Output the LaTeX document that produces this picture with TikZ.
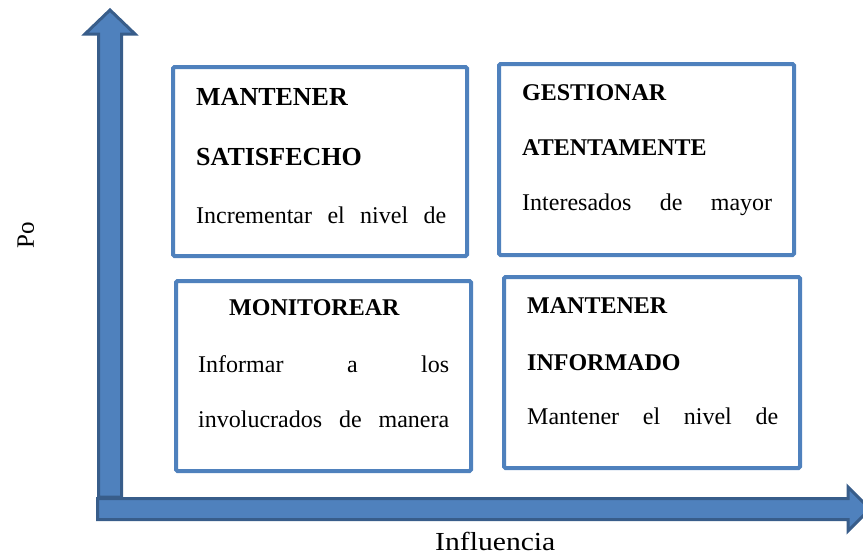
\documentclass[tikz,border=0pt]{standalone}
\usepackage{fontspec}
\setmainfont{Liberation Serif}
\definecolor{accent}{HTML}{4F81BD}
\definecolor{accentdark}{HTML}{385D8A}
\begin{document}
\begin{tikzpicture}[x=1pt,y=-1pt,
  quad/.style={draw=accent, line width=4pt, rounded corners=1.5pt, inner sep=0pt, outer sep=0pt, fill=white},
  axisarrow/.style={fill=accent, draw=accentdark, line width=3pt, line join=miter},
  lbl/.style={anchor=base west, inner sep=0pt, font=\fontsize{24}{24}\selectfont},
  hd/.style={anchor=base west, inner sep=0pt, font=\fontsize{24}{24}\selectfont\bfseries},
  hdbig/.style={anchor=base west, inner sep=0pt, font=\fontsize{26}{26}\selectfont\bfseries},
]
\useasboundingbox (0,0) rectangle (863,558);

% axes
\draw[axisarrow] (98.5,497) -- (98.5,34) -- (85,34) -- (110,10) -- (135,34) -- (121.5,34) -- (121.5,497) -- cycle;
\draw[axisarrow] (97.5,498.5) -- (848,498.5) -- (848,487) -- (870,509) -- (848,531) -- (848,519.5) -- (97.5,519.5) -- cycle;

% boxes
\node[quad, minimum width=294pt, minimum height=189pt] (q1) at (320,161.5) {};
\node[quad, minimum width=295pt, minimum height=191pt] (q2) at (646.5,159.5) {};
\node[quad, minimum width=295pt, minimum height=190pt] (q3) at (323.5,376) {};
\node[quad, minimum width=296pt, minimum height=191pt] (q4) at (652,372.5) {};

% box 1
\node[hdbig] (t1a) at (196,105) {MANTENER};
\node[hdbig] (t1b) at (196,165) {SATISFECHO};
\node[lbl] (t1c) at (196,223) {\hbox to 250pt{Incrementar\hfill el\hfill nivel\hfill de}};

% box 2
\node[hd] (t2a) at (522,100) {GESTIONAR};
\node[hd] (t2b) at (522,155) {ATENTAMENTE};
\node[lbl] (t2c) at (522,210) {\hbox to 250pt{Interesados\hfill de\hfill mayor}};

% box 3
\node[hd] (t3a) at (229,315) {MONITOREAR};
\node[lbl] (t3b) at (198,372) {\hbox to 251pt{Informar\hfill a\hfill los}};
\node[lbl] (t3c) at (198,427) {\hbox to 251pt{involucrados\hfill de\hfill manera}};

% box 4
\node[hd] (t4a) at (527,313) {MANTENER};
\node[hd] (t4b) at (527,370) {INFORMADO};
\node[lbl] (t4c) at (527,424) {\hbox to 251pt{Mantener\hfill el\hfill nivel\hfill de}};

% axis labels
\node[anchor=base west, inner sep=0pt, font=\fontsize{25}{25}\selectfont, rotate=90] (ylab) at (34,249) {Po};
\node[anchor=base west, inner sep=0pt, font=\fontsize{26}{26}\selectfont, xscale=1.14] (xlab) at (435,550) {Influencia};
\end{tikzpicture}
\end{document}
